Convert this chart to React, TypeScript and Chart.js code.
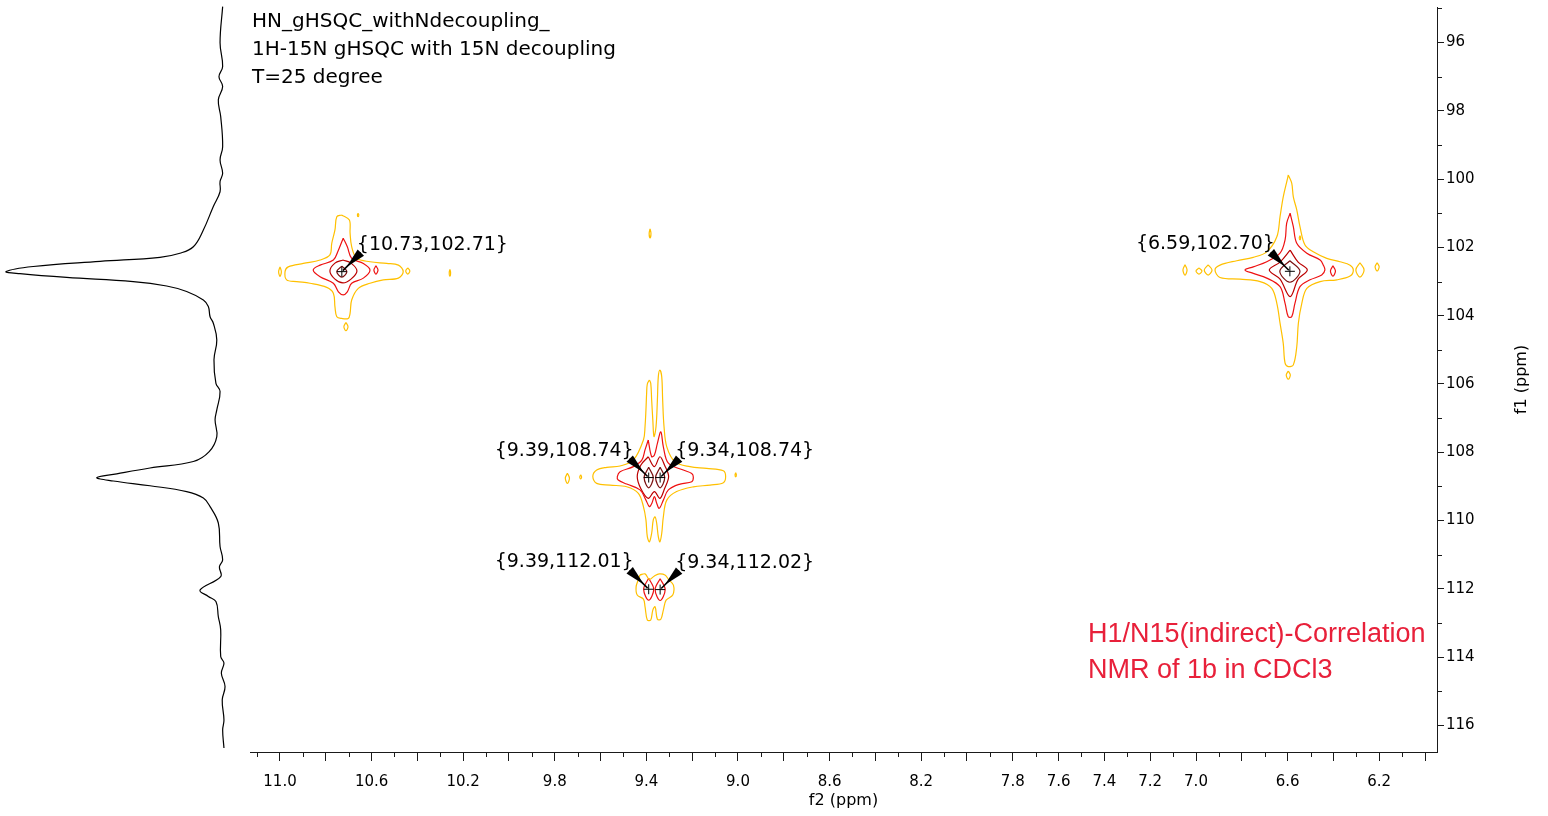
import React, { useEffect, useRef } from 'react';
import { Chart, registerables } from 'chart.js';

Chart.register(...registerables);

const W = 1548;
const H = 816;

const FONT_UI = '"DejaVu Sans", Verdana, sans-serif';
const FONT_NOTE = '"Liberation Sans", Arial, sans-serif';
const AXIS_COLOR = '#1a1a1a';

// Spectral window (ppm)
const F2_RANGE = [5.9476, 11.131];
const F1_RANGE = [94.9605, 116.776];
const PROJ_RANGE = [-559.9, -12.9];

// Labelled f2 ticks
const X_TICK_LABELS = [11.0, 10.6, 10.2, 9.8, 9.4, 9.0, 8.6, 8.2, 7.8, 7.6, 7.4, 7.2, 7.0, 6.6, 6.2];

// Peak picks (f2 ppm, f1 ppm)
const PEAK_F2 = [10.73, 6.59, 9.39, 9.34, 9.39, 9.34];
const PEAK_F1 = [102.71, 102.7, 108.74, 108.74, 112.01, 112.02];
const PEAK_LABEL_SIDE = ['right', 'left', 'left', 'right', 'left', 'right'];

// f1 projection trace: f1 ppm and relative intensity
const PROJ_F1 = [
  94.95, 96.01, 96.7, 97.0, 97.29, 97.68, 98.17, 99.05, 99.44, 99.83, 100.07, 100.37, 100.8, 101.49,
  101.98, 102.17, 102.29, 102.41, 102.56, 102.71, 102.77, 102.88, 103.0, 103.13, 103.29, 103.54,
  103.73, 104.03, 104.22, 104.71, 105.29, 105.98, 106.22, 106.76, 107.05, 107.54, 107.98, 108.27,
  108.46, 108.63, 108.74, 108.84, 108.98, 109.15, 109.34, 109.59, 110.07, 110.76, 111.15, 111.35,
  111.64, 112.03, 112.22, 112.37, 112.81, 113.2, 113.98, 114.17, 114.47, 114.86, 115.25, 115.84,
  116.13, 116.66,
];
const PROJ_INT = [
  -0.3, 0.9, -0.3, 1.4, -0.3, 1.7, 0.6, -0.3, 0.9, -0.3, 0.9, 0.9, 4.0, 8.6,
  13.2, 19.4, 28.6, 56.2, 87.0, 99.5, 93.1, 71.6, 40.9, 25.5, 16.3, 8.6,
  6.3, 5.5, 4.0, 2.4, 3.7, 2.8, 0.9, 2.4, 3.2, 2.4, 5.9, 13.2,
  33.2, 48.5, 57.7, 50.1, 33.2, 16.3, 8.6, 5.5, 1.7, 0.9, -0.3, 1.2,
  0.6, 10.1, 6.3, 2.8, 1.7, 0.6, 0.6, -0.9, 0.3, -1.4, -0.1, -0.9,
  -0.3, -0.9,
];

// Contour levels: lowest to highest
const LEVEL_COLORS = ['#FFC000', '#EE1111', '#BB0000', '#7A1010'];

// Contour paths, [f2, f1] pairs (ppm)
const A_L0 = [
  [10.731, 101.05], [10.697, 101.2], [10.694, 101.58], [10.687, 101.98], [10.665, 102.32], [10.607, 102.42],
  [10.534, 102.47], [10.483, 102.52], [10.462, 102.71], [10.483, 102.9], [10.549, 102.95], [10.607, 103.05],
  [10.658, 103.2], [10.687, 103.54], [10.694, 103.93], [10.702, 104.08], [10.731, 104.08], [10.752, 104.03],
  [10.76, 103.74], [10.767, 103.34], [10.796, 103.17], [10.869, 103.05], [10.927, 103.0], [10.971, 102.95],
  [10.978, 102.71], [10.964, 102.57], [10.898, 102.47], [10.825, 102.37], [10.782, 102.22], [10.774, 101.88],
  [10.76, 101.49], [10.752, 101.1],
];
const A_L0_ISLE_1 = [[11.0, 102.57], [10.994, 102.71], [11.0, 102.85], [11.006, 102.71]];
const A_L0_ISLE_2 = [[10.442, 102.6], [10.433, 102.69], [10.442, 102.78], [10.451, 102.69]];
const A_L0_ISLE_3 = [[10.712, 104.2], [10.703, 104.32], [10.712, 104.44], [10.721, 104.32]];
const A_L0_ISLE_4 = [[10.258, 102.64], [10.255, 102.74], [10.258, 102.84], [10.261, 102.74]];
const A_L0_ISLE_5 = [[10.659, 101.0], [10.656, 101.05], [10.659, 101.1], [10.662, 101.05]];
const A_L1 = [
  [10.724, 101.73], [10.706, 101.98], [10.687, 102.32], [10.636, 102.47], [10.607, 102.66], [10.636, 102.9],
  [10.687, 103.05], [10.706, 103.3], [10.724, 103.39], [10.745, 103.3], [10.767, 103.05], [10.825, 102.86],
  [10.855, 102.66], [10.825, 102.52], [10.767, 102.37], [10.745, 102.08],
];
const A_L1_ISLE = [[10.581, 102.54], [10.572, 102.66], [10.581, 102.78], [10.59, 102.66]];
const A_L2 = [
  [10.725, 102.37], [10.69, 102.46], [10.664, 102.69], [10.69, 102.93], [10.725, 103.04], [10.76, 102.93],
  [10.782, 102.69], [10.76, 102.46],
];
const A_L3 = [[10.73, 102.55], [10.708, 102.71], [10.73, 102.87], [10.752, 102.71]];

const D_L0 = [
  [6.597, 99.88], [6.582, 100.12], [6.575, 100.52], [6.56, 100.9], [6.546, 101.39], [6.524, 101.93],
  [6.488, 102.13], [6.429, 102.32], [6.371, 102.42], [6.327, 102.52], [6.313, 102.66], [6.327, 102.84],
  [6.385, 102.95], [6.458, 103.0], [6.516, 103.2], [6.538, 103.64], [6.553, 104.22], [6.56, 104.91],
  [6.575, 105.44], [6.597, 105.49], [6.611, 105.39], [6.619, 104.81], [6.633, 104.22], [6.647, 103.64],
  [6.669, 103.2], [6.72, 103.0], [6.808, 102.93], [6.895, 102.88], [6.917, 102.66], [6.895, 102.52],
  [6.822, 102.39], [6.75, 102.29], [6.691, 102.13], [6.647, 101.69], [6.633, 101.1], [6.619, 100.52],
  [6.602, 100.03],
];
const D_L0_ISLE_1 = [[7.048, 102.51], [7.039, 102.66], [7.048, 102.81], [7.057, 102.66]];
const D_L0_ISLE_2 = [[6.987, 102.6], [6.974, 102.69], [6.987, 102.78], [7.0, 102.69]];
const D_L0_ISLE_3 = [[6.947, 102.51], [6.93, 102.66], [6.947, 102.81], [6.964, 102.66]];
const D_L0_ISLE_4 = [[6.284, 102.45], [6.266, 102.66], [6.284, 102.87], [6.302, 102.66]];
const D_L0_ISLE_5 = [[6.209, 102.45], [6.2, 102.57], [6.209, 102.69], [6.218, 102.57]];
const D_L0_ISLE_6 = [[6.597, 105.62], [6.588, 105.74], [6.597, 105.86], [6.606, 105.74]];
const D_L0_ISLE_7 = [[6.546, 101.66], [6.543, 101.72], [6.546, 101.78], [6.549, 101.72]];
const D_L1 = [
  [6.589, 101.0], [6.575, 101.39], [6.56, 101.88], [6.516, 102.17], [6.458, 102.37], [6.444, 102.52],
  [6.437, 102.66], [6.451, 102.81], [6.502, 102.95], [6.546, 103.15], [6.568, 103.64], [6.582, 104.03],
  [6.597, 104.03], [6.611, 103.64], [6.633, 103.15], [6.691, 102.9], [6.75, 102.76], [6.786, 102.66],
  [6.75, 102.57], [6.691, 102.42], [6.633, 102.17], [6.611, 101.78], [6.604, 101.29],
];
const D_L1_ISLE = [[6.402, 102.54], [6.391, 102.69], [6.402, 102.84], [6.413, 102.69]];
const D_L2 = [
  [6.589, 102.08], [6.554, 102.43], [6.514, 102.66], [6.554, 102.93], [6.589, 103.44], [6.633, 102.93],
  [6.68, 102.66], [6.633, 102.43],
];
const D_L3 = [[6.59, 102.39], [6.546, 102.7], [6.59, 103.02], [6.634, 102.7]];

const B_L0 = [
  [9.387, 105.88], [9.396, 106.0], [9.399, 106.27], [9.402, 106.76], [9.406, 107.25], [9.413, 107.64],
  [9.457, 108.23], [9.515, 108.4], [9.573, 108.44], [9.617, 108.52], [9.634, 108.71], [9.617, 108.91],
  [9.559, 108.96], [9.486, 109.01], [9.435, 109.2], [9.413, 109.59], [9.402, 109.98], [9.396, 110.47],
  [9.387, 110.62], [9.377, 110.37], [9.37, 109.98], [9.362, 109.89], [9.355, 110.08], [9.348, 110.47],
  [9.341, 110.62], [9.333, 110.37], [9.326, 109.89], [9.311, 109.4], [9.268, 109.15], [9.195, 109.01],
  [9.122, 108.96], [9.064, 108.89], [9.054, 108.71], [9.064, 108.54], [9.137, 108.47], [9.21, 108.42],
  [9.275, 108.28], [9.311, 107.84], [9.323, 107.25], [9.329, 106.47], [9.333, 105.79], [9.341, 105.59],
  [9.348, 105.79], [9.352, 106.47], [9.358, 107.25], [9.367, 107.54], [9.372, 107.05], [9.377, 106.47],
  [9.381, 105.98],
];
const B_L0_ISLE_1 = [[9.745, 108.61], [9.736, 108.76], [9.745, 108.91], [9.754, 108.76]];
const B_L0_ISLE_2 = [[9.687, 108.66], [9.683, 108.72], [9.687, 108.78], [9.691, 108.72]];
const B_L0_ISLE_3 = [[9.01, 108.6], [9.007, 108.66], [9.01, 108.72], [9.013, 108.66]];
const B_L0_ISLE_4 = [[9.384, 101.46], [9.38, 101.59], [9.384, 101.72], [9.388, 101.59]];
const B_L1 = [
  [9.392, 107.64], [9.377, 108.13], [9.365, 108.08], [9.352, 107.74], [9.337, 107.4], [9.326, 107.84],
  [9.304, 108.32], [9.239, 108.52], [9.202, 108.62], [9.195, 108.73], [9.202, 108.86], [9.253, 108.93],
  [9.304, 109.1], [9.326, 109.4], [9.344, 109.64], [9.355, 109.49], [9.365, 109.3], [9.376, 109.49],
  [9.387, 109.59], [9.402, 109.4], [9.428, 109.1], [9.486, 108.93], [9.523, 108.81], [9.527, 108.71],
  [9.515, 108.57], [9.457, 108.42], [9.42, 108.23], [9.406, 107.93],
];
const B_L2 = [
  [9.392, 108.13], [9.365, 108.42], [9.341, 108.13], [9.321, 108.37], [9.303, 108.71], [9.321, 109.07],
  [9.341, 109.35], [9.365, 109.15], [9.392, 109.35], [9.424, 109.07], [9.44, 108.71], [9.424, 108.37],
];
const B_L3_LEFT = [[9.39, 108.44], [9.37, 108.74], [9.39, 109.04], [9.41, 108.74]];
const B_L3_RIGHT = [[9.34, 108.44], [9.32, 108.74], [9.34, 109.04], [9.36, 108.74]];

const C_L0 = [
  [9.428, 111.59], [9.406, 111.56], [9.387, 111.72], [9.365, 111.62], [9.344, 111.56], [9.319, 111.59],
  [9.304, 111.72], [9.282, 111.89], [9.285, 112.18], [9.314, 112.33], [9.326, 112.62], [9.337, 112.89],
  [9.352, 112.89], [9.362, 112.52], [9.372, 112.62], [9.381, 112.91], [9.396, 112.91], [9.406, 112.52],
  [9.413, 112.3], [9.44, 112.18], [9.445, 111.94], [9.435, 111.72],
];
const C_L1_LEFT = [[9.39, 111.69], [9.368, 112.01], [9.39, 112.33], [9.412, 112.01]];
const C_L1_RIGHT = [[9.34, 111.7], [9.318, 112.02], [9.34, 112.34], [9.362, 112.02]];

const CONTOURS: { level: number; path: number[][] }[] = [
  { level: 0, path: A_L0 }, { level: 0, path: A_L0_ISLE_1 }, { level: 0, path: A_L0_ISLE_2 },
  { level: 0, path: A_L0_ISLE_3 }, { level: 0, path: A_L0_ISLE_4 }, { level: 0, path: A_L0_ISLE_5 },
  { level: 1, path: A_L1 }, { level: 1, path: A_L1_ISLE }, { level: 2, path: A_L2 }, { level: 3, path: A_L3 },
  { level: 0, path: D_L0 }, { level: 0, path: D_L0_ISLE_1 }, { level: 0, path: D_L0_ISLE_2 },
  { level: 0, path: D_L0_ISLE_3 }, { level: 0, path: D_L0_ISLE_4 }, { level: 0, path: D_L0_ISLE_5 },
  { level: 0, path: D_L0_ISLE_6 }, { level: 0, path: D_L0_ISLE_7 },
  { level: 1, path: D_L1 }, { level: 1, path: D_L1_ISLE }, { level: 2, path: D_L2 }, { level: 3, path: D_L3 },
  { level: 0, path: B_L0 }, { level: 0, path: B_L0_ISLE_1 }, { level: 0, path: B_L0_ISLE_2 },
  { level: 0, path: B_L0_ISLE_3 }, { level: 0, path: B_L0_ISLE_4 },
  { level: 1, path: B_L1 }, { level: 2, path: B_L2 }, { level: 3, path: B_L3_LEFT }, { level: 3, path: B_L3_RIGHT },
  { level: 0, path: C_L0 }, { level: 1, path: C_L1_LEFT }, { level: 1, path: C_L1_RIGHT },
];

const TITLE_LINES = ['HN_gHSQC_withNdecoupling_', '1H-15N gHSQC with 15N decoupling', 'T=25 degree'];
const NOTE_LINES = ['H1/N15(indirect)-Correlation', 'NMR of 1b in CDCl3'];

const isMajorX = (v: number) => Math.round(v * 10) % 2 === 0;
const isLabelledX = (v: number) => X_TICK_LABELS.some((l) => Math.abs(l - v) < 1e-6);
const isMajorY = (v: number) => Math.round(v) % 2 === 0;

const decorPlugin = {
  id: 'nmrDecor',
  afterDatasetsDraw(chart: any) {
    const { ctx, scales } = chart;
    const xs = scales.x;
    const ys = scales.y;
    ctx.save();
    PEAK_F2.forEach((f2, i) => {
      const f1 = PEAK_F1[i];
      const px = xs.getPixelForValue(f2);
      const py = ys.getPixelForValue(f1);
      const dir = PEAK_LABEL_SIDE[i] === 'right' ? 1 : -1;

      // crosshair
      ctx.strokeStyle = '#000';
      ctx.lineWidth = 1;
      ctx.beginPath();
      ctx.moveTo(px - 5, py);
      ctx.lineTo(px + 5, py);
      ctx.moveTo(px, py - 5);
      ctx.lineTo(px, py + 5);
      ctx.stroke();

      // pointer from label to peak
      const tx = px + dir * 19;
      const ty = py - 19;
      const dx = px - tx;
      const dy = py - ty;
      const len = Math.hypot(dx, dy);
      const ux = dx / len;
      const uy = dy / len;
      const nx = -uy;
      const ny = ux;
      ctx.fillStyle = '#000';
      ctx.beginPath();
      ctx.moveTo(tx + nx * 4.5, ty + ny * 4.5);
      ctx.lineTo(tx + ux * len * 0.75, ty + uy * len * 0.75);
      ctx.lineTo(tx - nx * 4.5, ty - ny * 4.5);
      ctx.closePath();
      ctx.fill();
      ctx.lineWidth = 1.6;
      ctx.beginPath();
      ctx.moveTo(tx, ty);
      ctx.lineTo(px - ux * 1.5, py - uy * 1.5);
      ctx.stroke();

      // label
      ctx.font = `19px ${FONT_UI}`;
      ctx.textBaseline = 'middle';
      ctx.textAlign = dir > 0 ? 'left' : 'right';
      ctx.fillText(`{${f2.toFixed(2)},${f1.toFixed(2)}}`, px + dir * 15, py - 27);
    });
    ctx.restore();
  },
  afterDraw(chart: any) {
    const { ctx, scales } = chart;
    const xs = scales.x;
    const ys = scales.y;
    ctx.save();
    ctx.strokeStyle = AXIS_COLOR;
    ctx.lineWidth = 1;
    // minor ticks
    xs.ticks.forEach((t: any) => {
      if (isMajorX(t.value)) return;
      const px = Math.round(xs.getPixelForValue(t.value)) + 0.5;
      ctx.beginPath();
      ctx.moveTo(px, xs.top);
      ctx.lineTo(px, xs.top + 5);
      ctx.stroke();
    });
    ys.ticks.forEach((t: any) => {
      if (isMajorY(t.value)) return;
      const py = Math.round(ys.getPixelForValue(t.value)) + 0.5;
      ctx.beginPath();
      ctx.moveTo(ys.left, py);
      ctx.lineTo(ys.left + 5, py);
      ctx.stroke();
    });

    // experiment header
    ctx.fillStyle = '#000';
    ctx.font = `20px ${FONT_UI}`;
    ctx.textAlign = 'left';
    ctx.textBaseline = 'middle';
    TITLE_LINES.forEach((line, i) => ctx.fillText(line, 252, 22 + i * 28));

    // sample note
    ctx.fillStyle = '#E8203A';
    ctx.font = `27px ${FONT_NOTE}`;
    NOTE_LINES.forEach((line, i) => ctx.fillText(line, 1088, 635 + i * 36));

    // f1 axis title
    ctx.fillStyle = '#000';
    ctx.font = `16px ${FONT_UI}`;
    ctx.textAlign = 'center';
    ctx.translate(1522, (ys.top + ys.bottom) / 2);
    ctx.rotate(-Math.PI / 2);
    ctx.fillText('f1 (ppm)', 0, 0);
    ctx.restore();
  },
};

export default function App() {
  const canvasRef = useRef<HTMLCanvasElement | null>(null);

  useEffect(() => {
    const canvas = canvasRef.current;
    if (!canvas) return;

    const contourSets = CONTOURS.map((c) => {
      const pts = c.path.map(([f2, f1]) => ({ x: f2, y: f1 }));
      pts.push({ ...pts[0] });
      return {
        data: pts,
        xAxisID: 'x',
        yAxisID: 'y',
        showLine: true,
        borderColor: LEVEL_COLORS[c.level],
        borderWidth: 1.2,
        pointRadius: 0,
        tension: 0.35,
        fill: false,
      };
    });

    const projection = {
      data: PROJ_F1.map((f1, i) => ({ x: PROJ_INT[i], y: f1 })),
      xAxisID: 'xp',
      yAxisID: 'y',
      showLine: true,
      borderColor: '#000',
      borderWidth: 1.2,
      pointRadius: 0,
      tension: 0.4,
      capBezierPoints: false,
      clip: false as any,
      fill: false,
    };

    const chart = new Chart(canvas, {
      type: 'scatter',
      data: { datasets: [...contourSets, projection] as any },
      options: {
        responsive: false,
        animation: false,
        devicePixelRatio: 1,
        events: [],
        layout: { padding: { left: 250, top: 7, right: 0, bottom: 0 } },
        plugins: { legend: { display: false }, tooltip: { enabled: false } },
        scales: {
          x: {
            type: 'linear',
            position: 'bottom',
            reverse: true,
            min: F2_RANGE[0],
            max: F2_RANGE[1],
            afterFit: (s: any) => {
              s.height = 64;
              s.paddingLeft = 0;
              s.paddingRight = 0;
            },
            border: { display: true, color: AXIS_COLOR, width: 1 },
            grid: {
              drawOnChartArea: false,
              drawTicks: true,
              tickLength: 9,
              tickWidth: 1,
              tickColor: (ctx: any) => (ctx.tick && isMajorX(ctx.tick.value) ? AXIS_COLOR : 'rgba(0,0,0,0)'),
            },
            ticks: {
              stepSize: 0.1,
              autoSkip: false,
              includeBounds: false,
              maxRotation: 0,
              padding: 12,
              color: '#000',
              font: { family: FONT_UI, size: 15 },
              callback: (v: any) => (isLabelledX(Number(v)) ? Number(v).toFixed(1) : ''),
            },
            title: {
              display: true,
              text: 'f2 (ppm)',
              color: '#000',
              font: { family: FONT_UI, size: 16 },
              padding: { top: 0, bottom: 6 },
            },
          },
          xp: {
            type: 'linear',
            position: 'top',
            display: false,
            reverse: true,
            min: PROJ_RANGE[0],
            max: PROJ_RANGE[1],
          },
          y: {
            type: 'linear',
            position: 'right',
            reverse: true,
            min: F1_RANGE[0],
            max: F1_RANGE[1],
            afterFit: (s: any) => {
              s.width = 111;
              s.paddingTop = 0;
              s.paddingBottom = 0;
            },
            border: { display: true, color: AXIS_COLOR, width: 1 },
            grid: {
              drawOnChartArea: false,
              drawTicks: true,
              tickLength: 7,
              tickWidth: 1,
              tickColor: (ctx: any) => (ctx.tick && isMajorY(ctx.tick.value) ? AXIS_COLOR : 'rgba(0,0,0,0)'),
            },
            ticks: {
              stepSize: 1,
              autoSkip: false,
              includeBounds: false,
              padding: 2,
              color: '#000',
              font: { family: FONT_UI, size: 15 },
              callback: (v: any) => (isMajorY(Number(v)) ? String(Math.round(Number(v))) : ''),
            },
          },
        },
      },
      plugins: [decorPlugin],
    });

    return () => chart.destroy();
  }, []);

  return (
    <div style={{ position: 'fixed', left: 0, top: 0, width: W, height: H, background: '#fff' }}>
      <canvas ref={canvasRef} width={W} height={H} style={{ display: 'block', width: W, height: H }} />
    </div>
  );
}
